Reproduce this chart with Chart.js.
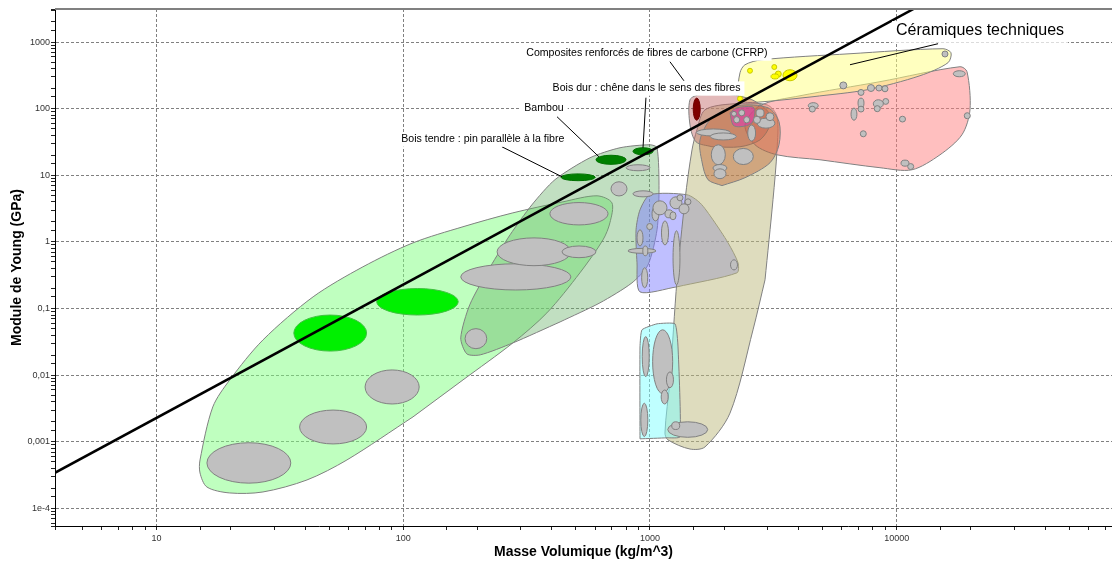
<!DOCTYPE html>
<html><head><meta charset="utf-8">
<script src="https://cdn.jsdelivr.net/npm/chart.js@4"></script>
<style>html,body{margin:0;padding:0;background:#fff}#wrap{width:1112px;height:565px}</style>
</head><body><div id="wrap"><canvas id="c" width="1112" height="565"></canvas></div>
<script>
// ---------- DATA (density kg/m^3, Young's modulus GPa) ----------
const xTickValues = [10, 100, 1000, 10000];
const xTickText = ['10', '100', '1000', '10000'];
const yTickValues = [1e-4, 1e-3, 0.01, 0.1, 1, 10, 100, 1000];
const yTickText = ['1e-4', '0,001', '0,01', '0,1', '1', '10', '100', '1000'];

// envelopes (closed outlines)
const foamEnvelope = [[109.5,0.00237],[174.6,0.0085],[278,0.0305],[382,0.0861],[520,0.344],[645,1.076],[688,1.94],[701,3.86],[610,4.92],[444,4.0],[278,2.73],[174.6,1.69],[109.5,0.969],[68.6,0.423],[43.1,0.150],[27.0,0.0339],[19.8,0.0085],[16.9,0.00334],[15.0,0.000535],[15.0,0.000341],[16.0,0.00021],[19.8,0.000171],[27.0,0.000177],[40.7,0.000268],[59.1,0.000535]];
const woodEnvelope = [[432,0.063],[278,0.0305],[205,0.0202],[181,0.0209],[171,0.0363],[186,0.114],[225,0.42],[271,1.28],[332,3.6],[412,8.6],[571,18.3],[756,25.9],[1000,28.7],[1068,25.9],[1088,6.1],[1068,1.52],[981,0.45],[845,0.243],[627,0.122]];
const oliveEnvelope = [[2926,0.27],[2616,0.048],[2110,0.0027],[1671,0.00084],[1453,0.00078],[1183,0.00107],[1150,0.00136],[1205,0.0085],[1287,0.27],[1387,4.3],[1480,24],[1550,48],[1671,96],[2170,118],[2981,114],[3272,76],[3272,24],[3152,4.3]];
const cyanEnvelope = [[911,0.00111],[911,0.0266],[928,0.048],[1068,0.059],[1263,0.059],[1299,0.0266],[1323,0.00119],[1172,0.00115]];
const blueEnvelope = [[1287,0.212],[911,0.178],[886,0.486],[878,1.52],[911,3.03],[1000,5.1],[1413,5.1],[1595,3.86],[1800,2.15],[2072,0.97],[2274,0.486],[2253,0.344]];
const redEnvelope = [[4888,17.1],[3272,20.3],[2665,28.7],[2427,57],[2792,111],[4055,156],[8557,254],[18050,426],[19280,358],[19820,96],[18390,40.6],[14980,20.3],[11530,12.1],[8557,13]];
const yellowEnvelope = [[4579,151],[2871,127],[2382,127],[2274,162],[2317,346],[2427,456],[2844,542],[6467,667],[15400,793],[16600,690],[16140,489],[12430,312],[7578,192]];
const roseEnvelope = [[1783,26.8],[1537,31.8],[1453,57],[1453,136],[1595,162],[2110,162],[2591,136],[3009,90],[3065,57],[2792,34],[2317,26.8]];
const brownEnvelope = [[1958,7.0],[1718,8.6],[1625,15.9],[1595,34],[1783,73],[2274,111],[3009,103],[3334,64],[3334,28.7],[3065,15.4],[2427,9.2]];
const magentaEnvelope = [[2110,86.8],[2253,103],[2591,107],[2665,96],[2591,61],[2317,53.5],[2170,57]];

// material ranges [rhoMin, rhoMax, Emin, Emax]
const greyRanges = [
 [16,35,0.00024,0.00097],[38,71,0.00093,0.0030],[70,116,0.0037,0.012],
 [171,478,0.19,0.47],[240,478,0.44,1.15],[440,604,0.58,0.87],[393,676,1.8,3.9],
 [178,218,0.025,0.050],[695,807,4.9,8.0],[853,1030,4.75,5.85],[800,1000,11.7,14.4],
 [1019,1088,2.07,3.37],[970,1025,1.53,1.89],[886,937,0.87,1.52],[814,1058,0.675,0.80],
 [935,980,0.62,0.87],[925,979,0.205,0.41],[1113,1189,0.90,2.07],[1240,1323,0.227,1.47],
 [2120,2263,0.38,0.54],[1028,1172,2.55,4.14],[1205,1348,3.14,4.75],[1311,1439,2.64,3.73],
 [1150,1240,2.3,3.03],[1287,1361,4.14,5.1],[1387,1466,3.61,4.44],[1205,1275,2.15,2.83],
 [930,993,0.0095,0.038],[1025,1236,0.0053,0.048],[1166,1245,0.0065,0.0112],[1110,1185,0.0037,0.0060],
 [918,980,0.0012,0.0038],[1180,1714,0.00117,0.0020],[1225,1320,0.00153,0.0020],
 [1541,2116,38.9,49.6],[1755,2238,33.9,43.2],[2490,2680,32.6,56.8],[1772,2020,14.4,28.7],
 [2176,2623,14.5,25.3],[1800,2050,11.4,14.5],[1817,2033,8.9,12.5],[2715,3210,51,72],
 [2690,2900,75,99],[2627,2804,60,77],[2953,3180,66,87],[2184,2310,61,76],[2398,2536,61,76],
 [2289,2421,78,96],[2140,2242,77,91],
 [16960,18970,301,371],[5880,6280,198,252],[6970,7370,158,194],[7610,8130,181,230],
 [8240,8720,184,226],[8720,9220,179,221],[8780,9280,116,142],[8040,8830,103,136],
 [8110,8580,90,111],[6970,7370,102,144],[6970,7370,89,109],[6530,6900,67,102],
 [4380,4810,100,123],[4420,4680,89,109],[7120,7530,37.8,46.6],[10260,10860,63,77],
 [18790,19880,70.5,87],[10410,11220,13.7,16.9],[11080,11720,12.2,15.0],[15260,16140,596,733]
];
const foamGreenRanges = [[36,71,0.023,0.080],[78,167,0.080,0.20]];
const woodGreenRanges = [[436,600,8.3,10.5],[604,800,14.6,20],[853,1030,20.3,25.9]];
const cfrpRanges = [[1497,1598,67,144]];
const ceramicRanges = [[2485,2603,340,404],[3117,3266,387,459],[3220,3406,298,367],[3094,3334,279,332],[3460,3944,262,384],[2263,2371,129,154]];

// guide line E/rho^2 = const
const guideX = [3, 12000];
const guideY = [0.000206, 3300];

// annotations
const labelText = ['Composites renforcés de fibres de carbone (CFRP)', 'Bois dur : chêne dans le sens des fibres', 'Bambou', 'Bois tendre : pin parallèle à la fibre', 'Céramiques techniques'];
const labelX = [972, 968, 372, 210, 21760];
const labelY = [690, 206, 103, 35.3, 1478];
const leaderFrom = [[1205,506],[963,146],[420,75.6],[251,26.8],[6467,456]];
const leaderTo = [[1373,262],[937,25.9],[621,18.95],[440,9.5],[14710,943]];

// ---------- STYLES ----------
const FONT = "'Liberation Sans', Arial, sans-serif";
const labelFontSize = [10.6, 10.6, 10.6, 10.6, 16];
const envelopes = [
  {data: foamEnvelope, color: 'rgba(128,255,128,0.5)', tension: 0.3},
  {data: woodEnvelope, color: 'rgba(100,175,100,0.4)', tension: 0.25},
  {data: blueEnvelope, color: 'rgba(128,128,255,0.5)', tension: 0.25},
  {data: oliveEnvelope, color: 'rgba(190,186,125,0.5)', tension: 0.3},
  {data: cyanEnvelope, color: 'rgba(128,255,255,0.5)', tension: 0.15},
  {data: redEnvelope, color: 'rgba(255,128,128,0.5)', tension: 0.3},
  {data: yellowEnvelope, color: 'rgba(255,255,128,0.5)', tension: 0.3},
  {data: roseEnvelope, color: 'rgba(192,100,100,0.45)', tension: 0.3},
  {data: brownEnvelope, color: 'rgba(190,100,50,0.45)', tension: 0.3},
  {data: magentaEnvelope, color: 'rgba(220,50,180,0.55)', tension: 0.3}
];

function toXY(arr) { return arr.map(p => ({x: p[0], y: p[1]})); }
function tickIndex(vals, v) { for (let i = 0; i < vals.length; i++) if (Math.abs(v - vals[i]) <= vals[i] * 1e-6) return i; return -1; }

const datasets = envelopes.map((e, i) => ({
  data: toXY(e.data.concat([e.data[0]])),
  showLine: true, fill: 'shape', backgroundColor: e.color, borderColor: '#808080',
  borderWidth: 1, tension: e.tension, pointRadius: 0, order: 100 - i
}));
const lastEnvelopeIndex = envelopes.length - 1;
datasets.push({
  data: guideX.map((x, i) => ({x, y: guideY[i]})),
  showLine: true, fill: false, borderColor: '#000', borderWidth: 2.5, tension: 0, pointRadius: 0, order: 0
});

function drawRanges(ctx, xs, ys, list, fill, stroke) {
  ctx.fillStyle = fill; ctx.strokeStyle = stroke; ctx.lineWidth = 1;
  for (const r of list) {
    const x1 = xs.getPixelForValue(r[0]), x2 = xs.getPixelForValue(r[1]);
    const y1 = ys.getPixelForValue(r[2]), y2 = ys.getPixelForValue(r[3]);
    ctx.beginPath();
    ctx.ellipse((x1 + x2) / 2, (y1 + y2) / 2, Math.abs(x2 - x1) / 2, Math.abs(y2 - y1) / 2, 0, 0, Math.PI * 2);
    ctx.fill(); if (stroke) ctx.stroke();
  }
}

const ashby = {
  id: 'ashby',
  afterDatasetDraw(chart, args) {
    if (args.index !== lastEnvelopeIndex) return;
    const ctx = chart.ctx, xs = chart.scales.x, ys = chart.scales.y, a = chart.chartArea;
    ctx.save();
    ctx.beginPath(); ctx.rect(a.left, a.top, a.right - a.left, a.bottom - a.top); ctx.clip();
    drawRanges(ctx, xs, ys, greyRanges, '#c0c0c0', '#808080');
    drawRanges(ctx, xs, ys, foamGreenRanges, '#00f000', '#40c040');
    drawRanges(ctx, xs, ys, woodGreenRanges, '#008000', '#007000');
    drawRanges(ctx, xs, ys, cfrpRanges, '#800000', '#700000');
    drawRanges(ctx, xs, ys, ceramicRanges, '#ffff00', '#c8c800');
    ctx.restore();
  },
  afterDatasetsDraw(chart) {
    const ctx = chart.ctx, xs = chart.scales.x, ys = chart.scales.y, a = chart.chartArea;
    ctx.save();
    ctx.strokeStyle = '#000'; ctx.lineWidth = 1;
    for (let i = 0; i < leaderFrom.length; i++) {
      ctx.beginPath();
      ctx.moveTo(xs.getPixelForValue(leaderFrom[i][0]), ys.getPixelForValue(leaderFrom[i][1]));
      ctx.lineTo(xs.getPixelForValue(leaderTo[i][0]), ys.getPixelForValue(leaderTo[i][1]));
      ctx.stroke();
    }
    ctx.textAlign = 'center'; ctx.textBaseline = 'middle';
    for (let i = 0; i < labelText.length; i++) {
      const s = labelFontSize[i];
      ctx.font = s + 'px ' + FONT;
      const px = xs.getPixelForValue(labelX[i]), py = ys.getPixelForValue(labelY[i]);
      const w = ctx.measureText(labelText[i]).width;
      ctx.fillStyle = '#fff';
      ctx.fillRect(px - w / 2 - 4, py - s * 0.6, w + 8, s * 1.35);
      ctx.fillStyle = '#000';
      ctx.fillText(labelText[i], px, py);
    }
    ctx.strokeStyle = '#808080'; ctx.lineWidth = 2;
    ctx.beginPath(); ctx.moveTo(a.left, a.top); ctx.lineTo(a.right, a.top); ctx.stroke();
    ctx.restore();
  }
};

Chart.defaults.font.family = FONT;
new Chart(document.getElementById('c'), {
  type: 'scatter',
  data: {datasets},
  plugins: [ashby],
  options: {
    responsive: false, animation: false, events: [],
    layout: {padding: {top: 9, left: 0, right: 0, bottom: 0}},
    plugins: {legend: {display: false}, tooltip: {enabled: false}},
    scales: {
      x: {
        type: 'logarithmic', min: 3.875, max: 74600,
        afterFit: s => { s.height = 39; s.paddingLeft = 0; s.paddingRight = 0; },
        grid: {
          color: c => (c.tick && tickIndex(xTickValues, c.tick.value) >= 0) ? '#808080' : 'rgba(0,0,0,0)',
          tickColor: '#222', tickLength: 4, lineWidth: 1
        },
        border: {display: true, color: '#000', width: 1, dash: [3, 2]},
        ticks: {
          autoSkip: false, maxRotation: 0, minRotation: 0, padding: 3,
          color: '#333', font: {size: 9},
          callback: v => { const i = tickIndex(xTickValues, v); return i >= 0 ? xTickText[i] : ''; }
        },
        title: {display: true, text: 'Masse Volumique (kg/m^3)', color: '#000',
          font: {size: 14, weight: 'bold'}, padding: {top: 0, bottom: 4}}
      },
      y: {
        type: 'logarithmic', min: 5.46e-5, max: 3130,
        afterFit: s => { s.width = 55; s.paddingTop = 0; s.paddingBottom = 0; },
        grid: {
          color: c => (c.tick && tickIndex(yTickValues, c.tick.value) >= 0) ? '#808080' : 'rgba(0,0,0,0)',
          tickColor: '#222', tickLength: 4, lineWidth: 1
        },
        border: {display: true, color: '#000', width: 1, dash: [3, 2]},
        ticks: {
          autoSkip: false, padding: 1, color: '#333', font: {size: 9},
          callback: v => { const i = tickIndex(yTickValues, v); return i >= 0 ? yTickText[i] : ''; }
        },
        title: {display: true, text: 'Module de Young (GPa)', color: '#000',
          font: {size: 14, weight: 'bold'}, padding: {top: 9, bottom: 0}}
      }
    }
  }
});
</script></body></html>
